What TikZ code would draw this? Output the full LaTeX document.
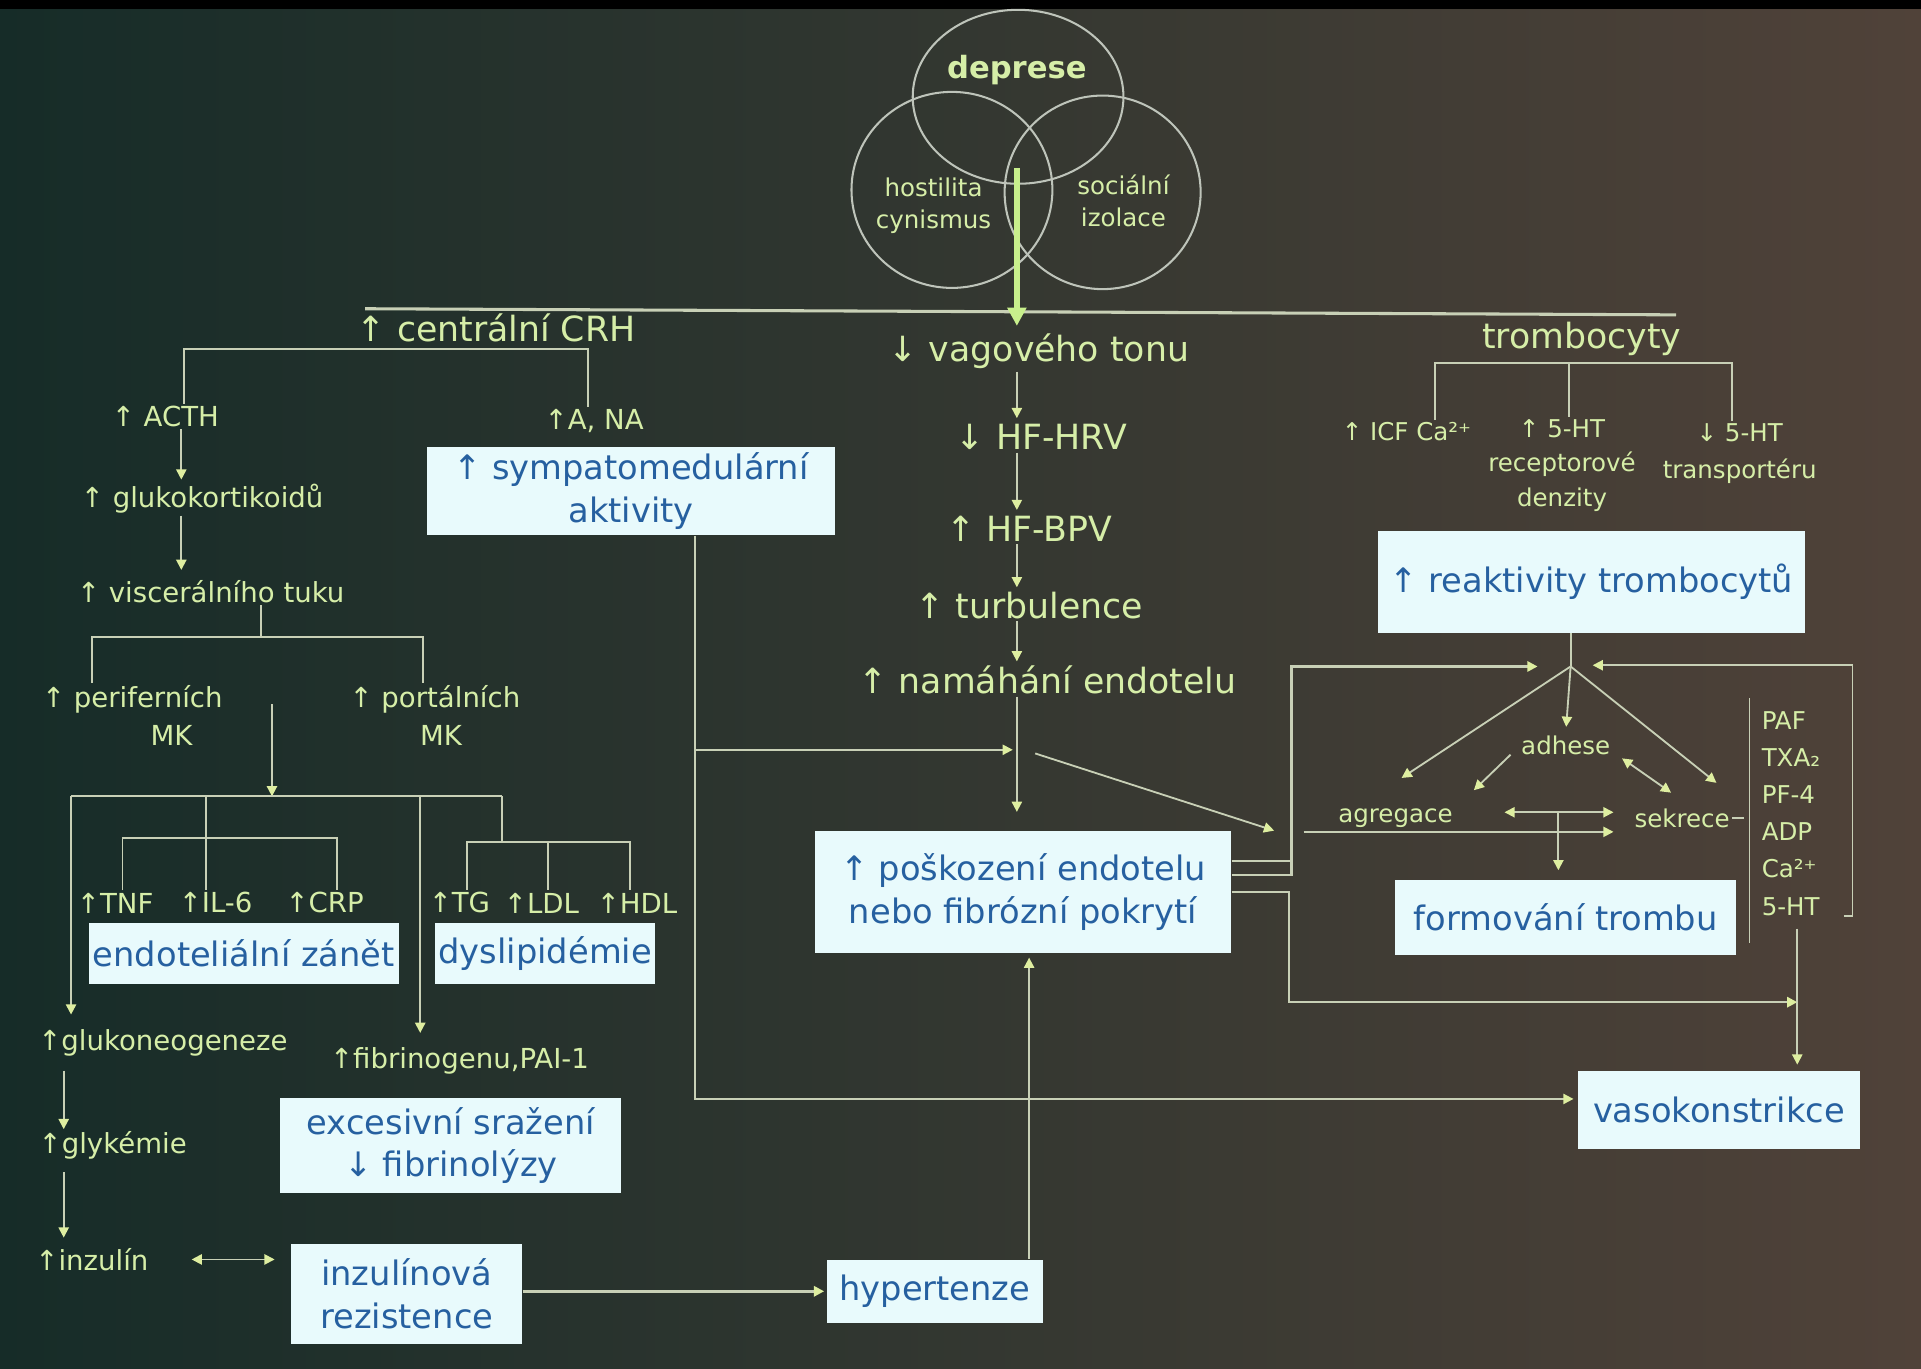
\documentclass[tikz,border=0pt]{standalone}
\usepackage{fontspec}
\setmainfont{DejaVu Sans}
\usetikzlibrary{arrows.meta,shapes.geometric,calc}
\definecolor{bgL}{RGB}{22,44,40}
\definecolor{bgM}{RGB}{30,40,34}
\definecolor{bgR}{RGB}{80,66,57}
\definecolor{tgreen}{RGB}{214,238,168}
\definecolor{lncol}{RGB}{200,208,182}
\definecolor{tipcol}{RGB}{222,238,160}
\definecolor{venncol}{RGB}{190,196,186}
\definecolor{thickcol}{RGB}{200,240,140}
\definecolor{boxfill}{RGB}{232,250,252}
\definecolor{boxtext}{RGB}{38,96,160}
\begin{document}
\begin{tikzpicture}[x=0.6pt,y=-0.6pt,
  txt/.style={text=tgreen, inner sep=1pt, font=\fontsize{13.5}{16}\selectfont},
  big/.style={txt, font=\fontsize{17}{20}\selectfont},
  med/.style={txt},
  sml/.style={txt, font=\fontsize{12}{16}\selectfont},
  box/.style={fill=boxfill, text=boxtext, font=\fontsize{16.5}{21}\selectfont, align=center, inner sep=0pt},
  ln/.style={draw=lncol, line width=0.9pt},
  arr/.style={ln, -{Triangle[length=5pt,width=5pt,color=tipcol]}},
  darr/.style={ln, {Triangle[length=5pt,width=5pt,color=tipcol]}-{Triangle[length=5pt,width=5pt,color=tipcol]}},
  venn/.style={draw=venncol, line width=1pt, ellipse, inner sep=0pt},
]
\useasboundingbox (0,0) rectangle (1568,1117);
\shade[left color=bgL, middle color=bgM, right color=bgR] (0,0) rectangle (1568,1117);
\fill[black] (0,0) rectangle (1568,7);

% Venn diagram
\node[venn, minimum width=103.2pt, minimum height=85.2pt] (cdep) at (831,79) {};
\node[venn, minimum width=98.4pt, minimum height=96pt] (chost) at (777,155) {};
\node[venn, minimum width=96pt, minimum height=94.8pt] (csoc) at (900,157) {};
\node[txt, font=\bfseries\fontsize{15}{18}\selectfont] (depr) at (830,57) {deprese};
\node[sml, align=center] (host) at (762,168) {hostilita\\cynismus};
\node[sml, align=center] (soc) at (917,164) {sociální\\izolace};

\coordinate (vsrc) at (830,137);
\coordinate (vtip) at (830,266);
\coordinate (busL) at (298,252);
\coordinate (busR) at (1368,257);
\draw[draw=lncol, line width=1.5pt] (busL) -- (busR);
\draw[draw=thickcol, line width=3pt, -{Triangle[length=9pt,width=9pt]}] (vsrc) -- (vtip);

% Top-level texts
\node[big] (crh) at (405,268) {↑ centrální CRH};
\node[big] (vag) at (848,287) {↓ vagového tonu};
\node[big] (trom) at (1291,277) {trombocyty};

% Left branch texts
\node[med] (acth) at (135,340) {↑ ACTH};
\node[med] (ana) at (485,344) {↑A, NA};
\node[med] (gluk) at (165,407) {↑ glukokortikoidů};
\node[med] (visc) at (172,483) {↑ viscerálního tuku};
\node[med] (perif) at (108,571) {↑ periferních};
\node[med] (perifmk) at (140,600) {MK};
\node[med] (port) at (355,571) {↑ portálních};
\node[med] (portmk) at (360,600) {MK};
\node[med] (tnf) at (94,737) {↑TNF};
\node[med] (il6) at (176,737) {↑IL-6};
\node[med] (crp) at (265,737) {↑CRP};
\node[med] (tg) at (375,737) {↑TG};
\node[med] (ldl) at (442,737) {↑LDL};
\node[med] (hdl) at (520,737) {↑HDL};
\node[med] (glukneo) at (133,851) {↑glukoneogeneze};
\node[med] (glyk) at (92,935) {↑glykémie};
\node[med] (inz) at (75,1028) {↑inzulín};
\node[med] (fibr) at (375,866) {↑fibrinogenu,PAI-1};

% Central column texts
\node[big] (hrv) at (850,357) {↓ HF-HRV};
\node[big] (bpv) at (840,432) {↑ HF-BPV};
\node[big] (turb) at (840,494) {↑ turbulence};
\node[big] (nam) at (855,555) {↑ namáhání endotelu};

% Right branch texts
\node[sml] (icf) at (1148,352) {↑ ICF Ca²⁺};
\node[sml, align=center, font=\fontsize{12}{17}\selectfont] (rec) at (1275,380) {↑ 5-HT\\receptorové\\denzity};
\node[sml, align=center, font=\fontsize{12}{18}\selectfont] (trans) at (1420,370) {↓ 5-HT\\transportéru};
\node[sml] (adh) at (1278,608) {adhese};
\node[sml] (agr) at (1139,668) {agregace};
\node[sml] (sek) at (1373,668) {sekrece};
\node[sml, align=left, anchor=west, font=\fontsize{12}{18.2}\selectfont] (list) at (1436,664) {PAF\\TXA₂\\PF-4\\ADP\\Ca²⁺\\5-HT};

% Boxes
\node[box, minimum width=200pt, minimum height=43pt] (symp) at (515,401) {↑ sympatomedulární\\aktivity};
\node[box, minimum width=152pt, minimum height=30pt] (endz) at (199,778) {endoteliální zánět};
\node[box, minimum width=108pt, minimum height=30pt] (dysl) at (445,778) {dyslipidémie};
\node[box, minimum width=167pt, minimum height=47pt] (exces) at (368,935) {excesivní sražení\\↓ fibrinolýzy};
\node[box, minimum width=113pt, minimum height=49pt] (inzr) at (332,1056) {inzulínová\\rezistence};
\node[box, minimum width=106pt, minimum height=31pt] (hyp) at (763,1054) {hypertenze};
\node[box, minimum width=204pt, minimum height=60pt] (posk) at (835,728) {↑ poškození endotelu\\nebo fibrózní pokrytí};
\node[box, minimum width=209pt, minimum height=50pt] (reakt) at (1299,475) {↑ reaktivity trombocytů};
\node[box, minimum width=167pt, minimum height=37pt] (form) at (1278,749) {formování trombu};
\node[box, minimum width=138pt, minimum height=38pt] (vaso) at (1403,906) {vasokonstrikce};

% Central column connectors
\coordinate (cx) at (830,0);
\draw[arr, shorten >=2pt] (vag.south -| cx) -- (hrv.north -| cx);
\draw[arr, shorten >=2pt] (hrv.south -| cx) -- (bpv.north -| cx);
\draw[arr, shorten >=1pt] (bpv.south -| cx) -- (turb.north -| cx);
\draw[arr, shorten >=1pt] (turb.south -| cx) -- (nam.north -| cx);
\draw[arr, shorten >=9pt] (nam.south -| cx) -- (posk.north -| cx);

% sympathomedullary connectors
\coordinate (sx) at (567,612);
\coordinate (sy) at (567,897);
\draw[ln] (symp.south -| sx) -- (sx);
\draw[arr, shorten >=2pt] (sx) -- (sx -| cx);
\draw[arr, shorten >=2pt] (sx) -- (sy) -- (sy -| vaso.west);

\coordinate (dg1) at (845,615);
\coordinate (dg2) at (1040,678);
\draw[arr] (dg1) -- (dg2);

% from endothelial damage to the right
\coordinate (pr1) at (1054,703);
\coordinate (pr2) at (1054,714);
\coordinate (tjl) at (1255,544);
\draw[arr, line width=1.2pt] (posk.east |- pr1) -- (pr1) |- (tjl);
\draw[ln, line width=1.2pt] (posk.east |- pr2) -- (pr2) -- (pr1);
\coordinate (pr3) at (1052,818);
\coordinate (v5) at (1467,758);
\draw[arr, line width=1.2pt] (posk.east) -| (pr3) -- (pr3 -| v5);

% platelet reactivity
\coordinate (tj) at (1282,544);
\draw[ln] (reakt.south -| tj) -- (tj);
\draw[arr, shorten >=3pt] (tj) -- (adh.north);
\coordinate (dl) at (1144,635);
\coordinate (dr) at (1401,639);
\draw[arr] (tj) -- (dl);
\draw[arr] (tj) -- (dr);
\coordinate (ad1) at (1233,616);
\coordinate (ad2) at (1203,645);
\draw[arr] (ad1) -- (ad2);
\coordinate (as1) at (1324,619);
\coordinate (as2) at (1364,647);
\draw[darr] (as1) -- (as2);
\coordinate (h1) at (1228,663);
\coordinate (h2) at (1317,663);
\draw[darr] (h1) -- (h2);
\coordinate (ag1) at (1064,679);
\coordinate (ag2) at (1317,679);
\draw[arr] (ag1) -- (ag2);
\coordinate (fv) at (1272,663);
\draw[arr, shorten >=4.5pt] (fv) -- (form.north -| fv);
\draw[ln] (sek.east) -- ++(10,0);
\coordinate (vb1) at (1428,570);
\coordinate (vb2) at (1428,770);
\draw[ln] (vb1) -- (vb2);
\coordinate (bk1) at (1505,748);
\coordinate (bk2) at (1512,543);
\coordinate (tjr) at (1300,543);
\draw[arr] (bk1) -| (bk2) -- (tjr);
\draw[arr, shorten >=3pt] (v5) -- (vaso.north -| v5);

% trombocyty tree
\coordinate (tb1) at (1171,296);
\coordinate (tb2) at (1281,296);
\coordinate (tb3) at (1414,296);
\draw[ln] (tb1 |- icf.north) -- (tb1) -- (tb3) -- (tb3 |- trans.north);
\draw[ln] (tb2) -- (tb2 |- rec.north);

% CRH tree
\coordinate (ct1) at (150,285);
\coordinate (ct2) at (480,285);
\draw[ln] (acth.north -| ct1) -- (ct1) -- (ct2) -- (ana.north -| ct2);
\coordinate (lx) at (148,0);
\draw[arr, shorten >=1pt] (acth.south -| lx) -- (gluk.north -| lx);
\draw[arr, shorten >=4pt] (gluk.south -| lx) -- (visc.north -| lx);

\coordinate (vt) at (213,520);
\coordinate (vtl) at (75,520);
\coordinate (vtr) at (345,520);
\draw[ln] (visc.south -| vt) -- (vt);
\draw[ln] (perif.north -| vtl) -- (vtl) -- (vtr) -- (port.north -| vtr);

\coordinate (m1) at (222,575);
\coordinate (bus2) at (222,650);
\draw[arr] (m1) -- (bus2);
\coordinate (b1) at (58,650);
\coordinate (b4) at (410,650);
\draw[ln] (b1) -- (b4);
\draw[arr, shorten >=6pt] (b1) -- (glukneo.north -| b1);
\coordinate (b2) at (168,650);
\draw[ln] (b2) -- (il6.north -| b2);
\coordinate (ib1) at (100,684);
\coordinate (ib2) at (275,684);
\draw[ln] (tnf.north -| ib1) -- (ib1) -- (ib2) -- (crp.north -| ib2);
\coordinate (b3) at (343,650);
\draw[arr, shorten >=6pt] (b3) -- (fibr.north -| b3);
\coordinate (db) at (410,687);
\draw[ln] (b4) -- (db);
\coordinate (lb1) at (381,687);
\coordinate (lb2) at (447,687);
\coordinate (lb3) at (514,687);
\draw[ln] (tg.north -| lb1) -- (lb1) -- (lb3) -- (hdl.north -| lb3);
\draw[ln] (lb2) -- (ldl.north -| lb2);

% lower left
\coordinate (gx) at (52,0);
\draw[arr, shorten <=6pt] (glukneo.south -| gx) -- (glyk.north -| gx);
\draw[arr, shorten <=5pt, shorten >=4pt] (glyk.south -| gx) -- (inz.north -| gx);
\draw[darr, shorten <=20pt, shorten >=8pt] (inz.east) -- (inzr.west |- inz.east);
\draw[arr, line width=1.3pt, shorten >=1pt] (inzr.east |- hyp.west) -- (hyp.west);
\coordinate (hx) at (840,0);
\draw[arr, shorten >=2pt] (hyp.north -| hx) -- (posk.south -| hx);
\end{tikzpicture}
\end{document}
